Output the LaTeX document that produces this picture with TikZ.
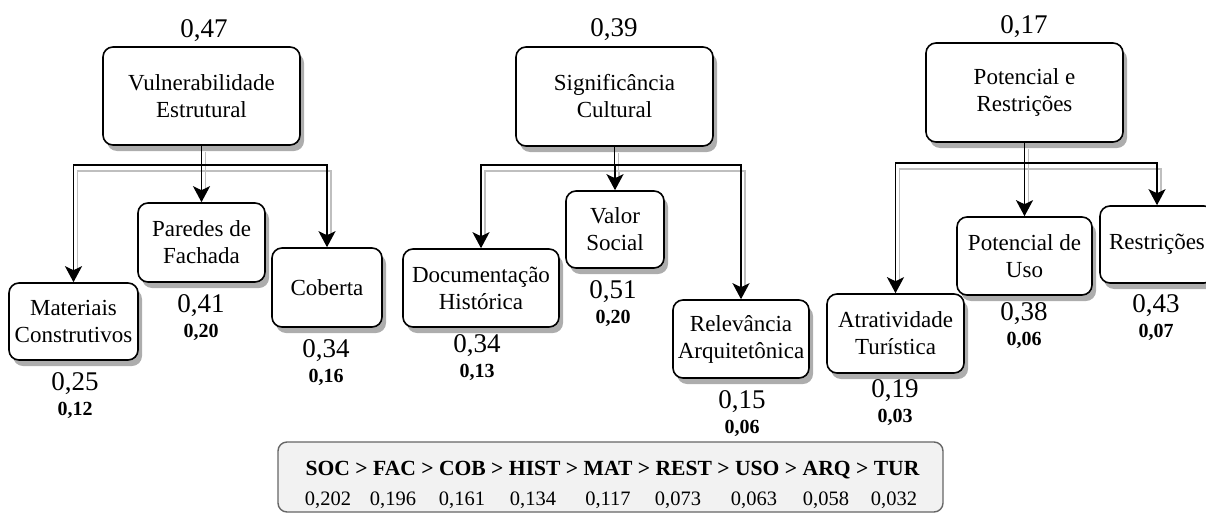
\documentclass[tikz,border=0pt]{standalone}
\usepackage{fontspec}
\setmainfont{Liberation Serif}
\usetikzlibrary{arrows.meta,shadows}
\tikzset{
  ahpbox/.style={rectangle, rounded corners=10pt, draw, line width=1.6pt,
                 fill=white, align=center, inner sep=0pt,
                 font=\fontsize{23}{27}\selectfont,
                 drop shadow={shadow xshift=4pt, shadow yshift=-6pt,
                              fill=black!32, opacity=1}},
  ahpwire/.style={draw, line width=1.8pt,
                  -{Stealth[length=16pt, width=17pt, inset=4pt]}},
  ahpwireshade/.style={draw, line width=1.8pt, black!25, shorten >=18pt},
  ahpweight/.style={anchor=base, inner sep=0pt,
                    font=\fontsize{27}{30}\selectfont},
  ahplocal/.style={anchor=base, inner sep=0pt,
                   font=\bfseries\fontsize{20}{24}\selectfont},
  ahpnote/.style={anchor=base, inner sep=0pt,
                  font=\fontsize{20.5}{24}\selectfont}
}

\begin{document}
\begin{tikzpicture}[x=1pt, y=-1pt]
  \useasboundingbox (0,0) rectangle (1206,514);
  % box name/x/y/width/height/text
  \foreach \n/\x/\y/\w/\h/\t in {%
      vul/201.5/96/197/98/{Vulnerabilidade\\Estrutural},
      sig/614.5/96.5/197/99/{Significância\\Cultural},
      pot/1024.5/92.5/197/99/{Potencial e\\Restrições},
      mat/73.5/321.5/129/77/{Materiais\\Construtivos},
      par/201.5/242.5/127/79/{Paredes de\\Fachada},
      cob/327/287.5/110/79/{Coberta},
      doc/481/288/156/78/{Documentação\\Histórica},
      val/615/229.5/98/77/{Valor\\Social},
      rel/741/339/136/78/{Relevância\\Arquitetônica},
      tur/895.5/333.5/137/79/{Atratividade\\Turística},
      uso/1024.5/256/135/78/{Potencial de\\Uso},
      res/1157/244.5/114/77/{Restrições}}
    { \node[ahpbox, minimum width=\w pt, minimum height=\h pt] (\n) at (\x,\y) {\t}; }
  % parent/child/drop to the bar: the shadows first, then the wires
  \foreach \p/\c/\d in {%
      vul/mat/19, vul/par/19, vul/cob/19, sig/doc/18, sig/val/18, sig/rel/18,
      pot/tur/20, pot/uso/20, pot/res/20}
    { \draw[ahpwireshade] ([xshift=4pt, yshift=-6pt]\p.south) -- ++(0,\d)
        -| ([xshift=4pt, yshift=-6pt]\c.north); }
  \foreach \p/\c/\d in {%
      vul/mat/19, vul/par/19, vul/cob/19, sig/doc/18, sig/val/18, sig/rel/18,
      pot/tur/20, pot/uso/20, pot/res/20}
    { \draw[ahpwire] (\p.south) -- ++(0,\d) -| (\c.north); }
  % criterion weights
  \node[ahpweight] (gvul) at (204,37) {0,47};
  \node[ahpweight] (gsig) at (614,36) {0,39};
  \node[ahpweight] (gpot) at (1024,33) {0,17};
  % sub-criterion: name/x/baseline/weight/global weight
  \foreach \n/\x/\y/\g/\l in {%
      mat/75/390/{0,25}/{0,12}, par/201/312/{0,41}/{0,20},
      cob/326/357/{0,34}/{0,16}, doc/477/352/{0,34}/{0,13},
      val/613/298/{0,51}/{0,20}, rel/742/408/{0,15}/{0,06},
      tur/895/397/{0,19}/{0,03}, uso/1024/320/{0,38}/{0,06},
      res/1156/312/{0,43}/{0,07}}
    { \node[ahpweight] (g\n) at (\x,\y) {\g};
      \node[ahplocal] (l\n) at (\x,\y+25) {\l}; }
  % final ranking
  \node[draw=black!60, fill=black!5, line width=1.4pt, rounded corners=9pt,
        minimum width=665pt, minimum height=70pt] (rank) at (610.5,477) {};
  \node[ahpnote, font=\bfseries\fontsize{21.6}{25}\selectfont] (order) at (612.5,475)
    {SOC > FAC > COB > HIST > MAT > REST > USO > ARQ > TUR};
  \foreach \x/\v [count=\i] in {%
      328/{0,202}, 393/{0,196}, 462/{0,161}, 533/{0,134}, 608/{0,117},
      678/{0,073}, 754/{0,063}, 826/{0,058}, 894/{0,032}}
    { \node[ahpnote] (score\i) at (\x,505) {\v}; }
\end{tikzpicture}
\end{document}
